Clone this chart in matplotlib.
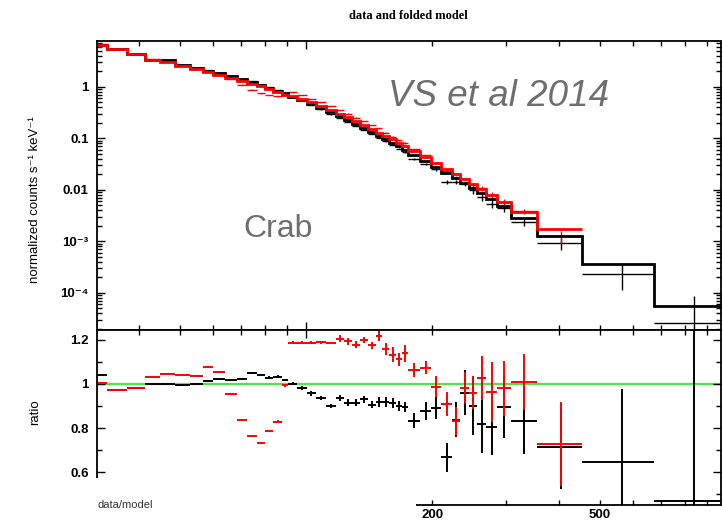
import matplotlib
matplotlib.use('Agg')
import matplotlib.pyplot as plt
from matplotlib.ticker import LogLocator, FuncFormatter, MultipleLocator, NullFormatter
from matplotlib.patches import Rectangle
import numpy as np

plt.rcParams['font.family'] = ['Liberation Sans', 'DejaVu Sans']

# energy bin edges (keV)
black_edges = [31.8, 33.6, 37.5, 41.4, 48.8, 52.9, 56.9, 60.1, 64.1, 68.5, 72.4,
               76.4, 79.9, 83.5, 87.7, 90.6, 95.2, 100.5, 105.6, 111.6, 117.9,
               123.2, 128.7, 134.5, 140.5, 146.8, 151.7, 157.6, 163.8, 169.3,
               175.0, 186.8, 198.5, 209.6, 222.6, 232.6, 244.4, 255.4, 268.3,
               285.0, 307.7, 354.8, 454.1, 673.9, 1000.0]
black_model = [6.5, 5.5, 4.4, 3.3, 2.7, 2.34, 2.05, 1.83, 1.6, 1.4, 1.22, 1.07,
               0.96, 0.84, 0.75, 0.65, 0.56, 0.47, 0.39, 0.327, 0.267, 0.229,
               0.191, 0.16, 0.134, 0.112, 0.096, 0.082, 0.070, 0.060, 0.048,
               0.0366, 0.028, 0.0214, 0.0171, 0.0137, 0.0109, 0.0087, 0.0067,
               0.0049, 0.0029, 0.00128, 3.66e-4, 5.6e-5]
black_ratio = [1.04, 0.973, 0.983, 1.0, 0.995, 1.001, 1.015, 1.024, 1.018, 1.024,
               1.05, 1.04, 1.028, 1.033, 1.018, 1.001, 0.981, 0.957, 0.936, 0.90,
               0.937, 0.916, 0.916, 0.931, 0.906, 0.92, 0.918, 0.915, 0.90, 0.897,
               0.834, 0.879, 0.89, 0.669, 0.838, 0.961, 0.901, 0.819, 0.807,
               0.894, 0.834, 0.717, 0.646, 0.47]
black_err = [0.004, 0.004, 0.004, 0.004, 0.004, 0.004, 0.004, 0.004, 0.004, 0.004,
             0.006, 0.006, 0.006, 0.006, 0.006, 0.006, 0.01, 0.01, 0.01, 0.01,
             0.015, 0.015, 0.015, 0.015, 0.015, 0.022, 0.022, 0.022, 0.022, 0.022,
             0.034, 0.04, 0.05, 0.065, 0.08, 0.1, 0.13, 0.13, 0.13, 0.14, 0.15,
             0.19, 0.33, 1.05]

red_edges = [31.8, 33.6, 37.5, 41.4, 44.9, 48.8, 52.9, 56.9, 60.1, 64.1, 68.5,
             72.4, 76.4, 79.9, 83.5, 87.7, 90.6, 95.2, 100.5, 105.6, 111.6, 117.9,
             123.2, 128.7, 134.5, 140.5, 146.8, 151.7, 157.6, 163.8, 169.3, 175.0,
             186.8, 198.5, 209.6, 222.6, 232.6, 244.4, 255.4, 268.3, 285.0, 307.7,
             354.8, 454.1]
red_model = [6.5, 5.5, 4.4, 3.35, 3.0, 2.6, 2.25, 1.95, 1.74, 1.52, 1.33, 1.16,
             1.02, 0.9, 0.79, 0.69, 0.66, 0.58, 0.5, 0.42, 0.355, 0.295, 0.255,
             0.215, 0.182, 0.154, 0.13, 0.112, 0.096, 0.083, 0.072, 0.058, 0.044,
             0.034, 0.026, 0.0205, 0.0165, 0.0131, 0.0104, 0.0081, 0.0059,
             0.0038, 0.00175]
red_ratio = [1.006, 0.973, 0.983, 1.031, 1.046, 1.039, 1.036, 1.076, 1.054, 0.956,
             0.837, 0.766, 0.732, 0.786, 0.83, 0.994, 1.186, 1.187, 1.186, 1.188,
             1.185, 1.205, 1.193, 1.178, 1.198, 1.175, 1.216, 1.156, 1.133, 1.111,
             1.138, 1.063, 1.073, 0.987, 0.91, 0.834, 0.983, 0.961, 1.028, 0.965,
             0.981, 1.009, 0.73]
red_err = [0.004, 0.005, 0.005, 0.004, 0.004, 0.004, 0.004, 0.005, 0.005, 0.005,
           0.005, 0.005, 0.005, 0.005, 0.005, 0.006, 0.006, 0.006, 0.006, 0.006,
           0.006, 0.015, 0.015, 0.015, 0.015, 0.015, 0.022, 0.027, 0.032, 0.03,
           0.04, 0.03, 0.03, 0.047, 0.055, 0.063, 0.07, 0.075, 0.1, 0.135, 0.125,
           0.127, 0.19]

W, H = 722, 524
fig = plt.figure(figsize=(W / 100, H / 100), dpi=100)
ax1 = fig.add_axes([97 / W, 1 - 330 / H, 623.5 / W, 289 / H])
ax2 = fig.add_axes([97 / W, 1 - 505 / H, 623.5 / W, 175 / H], sharex=ax1)


def bins(edges):
    e = np.asarray(edges)
    return (e[:-1] + e[1:]) / 2, (e[1:] - e[:-1]) / 2


ax2.axhline(1.0, color='#4fe34f', lw=1.6, zorder=1)

for edges, model, ratio, err, col in [
        (black_edges, black_model, black_ratio, black_err, 'black'),
        (red_edges, red_model, red_ratio, red_err, 'red')]:
    xc, xw = bins(edges)
    model = np.asarray(model)
    ratio = np.asarray(ratio)
    err = np.asarray(err)
    ax1.stairs(model, edges, baseline=None, color=col, lw=2.0, zorder=3)
    ax1.errorbar(xc, model * ratio, xerr=xw, yerr=model * err, fmt='none',
                 ecolor=col, elinewidth=1.0, capsize=0, zorder=2)
    ax2.errorbar(xc, ratio, xerr=xw, yerr=err, fmt='none',
                 ecolor=col, elinewidth=1.4, capsize=0, zorder=2)

ax1.set_xscale('log')
ax1.set_yscale('log')
ax1.set_xlim(31.8, 970)
ax1.set_ylim(1.9e-5, 7.8)
ax2.set_ylim(0.4525, 1.244)


def ylab(v, pos):
    if v >= 0.0099:
        return '%g' % v
    return '10' + {-3: '⁻³', -4: '⁻⁴', -5: '⁻⁵'}.get(int(round(np.log10(v))), '')


ax1.yaxis.set_major_locator(LogLocator(base=10))
ax1.yaxis.set_minor_locator(LogLocator(base=10, subs=np.arange(2, 10)))
ax1.yaxis.set_major_formatter(FuncFormatter(ylab))
ax1.yaxis.set_minor_formatter(NullFormatter())

ax2.xaxis.set_major_locator(LogLocator(base=10))
ax2.xaxis.set_minor_locator(LogLocator(base=10, subs=np.arange(2, 10)))
ax2.xaxis.set_major_formatter(NullFormatter())
ax2.xaxis.set_minor_formatter(
    FuncFormatter(lambda v, p: '%d' % round(v) if round(v) in (200, 500) else ''))
ax2.yaxis.set_major_locator(MultipleLocator(0.2))
ax2.yaxis.set_minor_locator(MultipleLocator(0.1))
ax2.yaxis.set_major_formatter(FuncFormatter(lambda v, p: '%g' % round(v, 1)))

for ax in (ax1, ax2):
    ax.tick_params(which='both', direction='in', top=True, right=True,
                   width=1.0, labelsize=9.5, pad=6)
    ax.tick_params(which='major', length=6)
    ax.tick_params(which='minor', length=3.5)
    for lab in ax.get_yticklabels() + ax.get_xticklabels(which='both'):
        lab.set_fontweight('bold')
    for s in ax.spines.values():
        s.set_linewidth(1.3)
ax1.tick_params(labelbottom=False)
ax2.tick_params(axis='x', which='both', pad=3)

ax1.set_title('data and folded model', family='Liberation Serif', weight='bold',
              fontsize=9, pad=16)
fig.text(35 / W, 1 - 200 / H, 'normalized counts s⁻¹ keV⁻¹', rotation=90,
         ha='center', va='center', fontsize=9.5)
fig.text(35 / W, 1 - 412 / H, 'ratio', rotation=90, ha='center', va='center',
         fontsize=9.5)

# white strip covering the lower left corner of the screenshot
fig.add_artist(Rectangle((0, 0), 416 / W, 1 - 478 / H, transform=fig.transFigure,
                         facecolor='white', edgecolor='none', zorder=10))
fig.text(98 / W, 1 - 505 / H, 'data/model', ha='left', va='center', fontsize=8,
         color='#333333', zorder=11)

fig.text(388 / W, 1 - 106 / H, 'VS et al 2014', style='italic', fontsize=26.5,
         color='#6e6e6e', ha='left', va='baseline')
fig.text(243 / W, 1 - 237 / H, 'Crab', fontsize=23, color='#6e6e6e',
         ha='left', va='baseline')

fig.savefig('out.png', dpi=100)
